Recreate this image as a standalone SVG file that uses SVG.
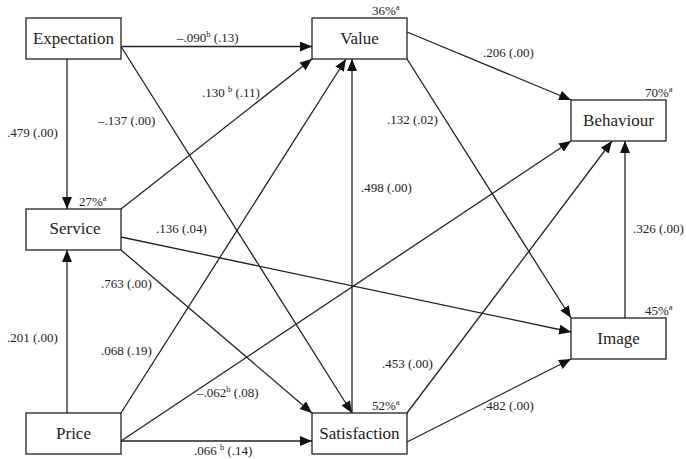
<svg xmlns="http://www.w3.org/2000/svg" width="686" height="459" viewBox="0 0 686 459">
<style>
  .box { fill: #fff; stroke: #222; stroke-width: 1.3; }
  .lbl { font-family: "Liberation Serif", "Times New Roman", serif; font-size: 17px; fill: #222; text-anchor: middle; }
  .el { font-family: "Liberation Serif", "Times New Roman", serif; font-size: 13px; fill: #222; }
  .sup { font-size: 8.5px; }
  .edge { stroke: #222; stroke-width: 1.3; fill: none; marker-end: url(#arr); }
</style>
<defs>
  <marker id="arr" markerUnits="userSpaceOnUse" markerWidth="13" markerHeight="11" refX="12" refY="5" orient="auto">
    <path d="M0,0 L12,5 L0,10 z" fill="#111"/>
  </marker>
</defs>
<rect width="686" height="459" fill="#fff"/>
<g id="connectors">
  <line class="edge" x1="121" y1="46.5" x2="312" y2="46.5"/>
  <line class="edge" x1="67" y1="59" x2="67" y2="209"/>
  <line class="edge" x1="67" y1="413" x2="67" y2="250"/>
  <line class="edge" x1="121" y1="46.5" x2="352" y2="413"/>
  <line class="edge" x1="121" y1="209" x2="312" y2="59"/>
  <line class="edge" x1="121" y1="413" x2="346" y2="59"/>
  <line class="edge" x1="352" y1="413" x2="352" y2="59"/>
  <line class="edge" x1="407" y1="32" x2="571" y2="100"/>
  <line class="edge" x1="407" y1="59" x2="571" y2="318"/>
  <line class="edge" x1="121" y1="237" x2="571" y2="332"/>
  <line class="edge" x1="121" y1="250" x2="312" y2="413"/>
  <line class="edge" x1="121" y1="441" x2="571" y2="141"/>
  <line class="edge" x1="121" y1="441" x2="312" y2="441"/>
  <line class="edge" x1="407" y1="413" x2="612" y2="141"/>
  <line class="edge" x1="407" y1="442" x2="571" y2="359"/>
  <line class="edge" x1="625" y1="318" x2="625" y2="141"/>
</g>
<g id="edge-labels">
  <text class="el" x="177" y="42">–.090<tspan class="sup" dy="-5">b</tspan><tspan dy="5"> (.13)</tspan></text>
  <text class="el" x="483" y="57">.206 (.00)</text>
  <text class="el" x="202" y="97">.130 <tspan class="sup" dy="-5">b</tspan><tspan dy="5"> (.11)</tspan></text>
  <text class="el" x="98" y="125">–.137 (.00)</text>
  <text class="el" x="7" y="137">.479 (.00)</text>
  <text class="el" x="387" y="124">.132 (.02)</text>
  <text class="el" x="156" y="233">.136 (.04)</text>
  <text class="el" x="101" y="288">.763 (.00)</text>
  <text class="el" x="361" y="192">.498 (.00)</text>
  <text class="el" x="633" y="233">.326 (.00)</text>
  <text class="el" x="7" y="342">.201 (.00)</text>
  <text class="el" x="101" y="355">.068 (.19)</text>
  <text class="el" x="197" y="397">–.062<tspan class="sup" dy="-5">b</tspan><tspan dy="5"> (.08)</tspan></text>
  <text class="el" x="194" y="455">.066 <tspan class="sup" dy="-5">b</tspan><tspan dy="5"> (.14)</tspan></text>
  <text class="el" x="382" y="368">.453 (.00)</text>
  <text class="el" x="483" y="410">.482 (.00)</text>
</g>
<g id="expectation">
  <rect class="box" x="26" y="18" width="95" height="41"/>
  <text class="lbl" x="73.5" y="44">Expectation</text>
</g>
<g id="value">
  <rect class="box" x="312" y="18" width="95" height="41"/>
  <text class="lbl" x="359.5" y="44">Value</text>
  <text class="el" x="372" y="15">36%<tspan class="sup" dy="-5">a</tspan></text>
</g>
<g id="behaviour">
  <rect class="box" x="571" y="100" width="95" height="41"/>
  <text class="lbl" x="618.5" y="126">Behaviour</text>
  <text class="el" x="645" y="97">70%<tspan class="sup" dy="-5">a</tspan></text>
</g>
<g id="service">
  <rect class="box" x="26" y="209" width="95" height="41"/>
  <text class="lbl" x="75" y="234">Service</text>
  <text class="el" x="79" y="206">27%<tspan class="sup" dy="-5">a</tspan></text>
</g>
<g id="image">
  <rect class="box" x="571" y="318" width="95" height="41"/>
  <text class="lbl" x="618.5" y="344">Image</text>
  <text class="el" x="645" y="315">45%<tspan class="sup" dy="-5">a</tspan></text>
</g>
<g id="price">
  <rect class="box" x="26" y="413" width="95" height="41"/>
  <text class="lbl" x="73.5" y="439">Price</text>
</g>
<g id="satisfaction">
  <rect class="box" x="312" y="413" width="95" height="41"/>
  <text class="lbl" x="359.5" y="439">Satisfaction</text>
  <text class="el" x="372" y="410">52%<tspan class="sup" dy="-5">a</tspan></text>
</g>
</svg>
